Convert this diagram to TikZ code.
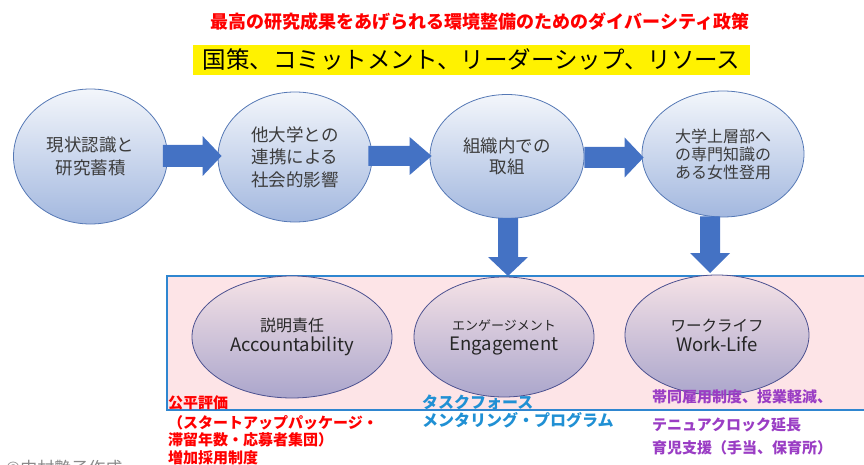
\documentclass[tikz,border=0pt]{standalone}
\usepackage{fontspec}
\setmainfont{Noto Sans CJK JP}
\usetikzlibrary{shapes.geometric,calc}
\definecolor{elltop}{HTML}{F3F6FB}
\definecolor{ellbot}{HTML}{A3B8DF}
\definecolor{ellblue}{HTML}{5578B5}
\definecolor{pinktop}{HTML}{F5E2E6}
\definecolor{lavbot}{HTML}{ABA6CC}
\definecolor{ellpurple}{HTML}{4C5190}
\definecolor{boxfill}{HTML}{FDE4E7}
\definecolor{boxdraw}{HTML}{2F86D0}
\definecolor{barrow}{HTML}{4472C4}
\definecolor{tred}{HTML}{FF0000}
\definecolor{tblue}{HTML}{2090D4}
\definecolor{tpurple}{HTML}{9A3DC4}
\definecolor{tgray}{HTML}{8A8A8A}
\definecolor{ink}{HTML}{3C3C3C}
\definecolor{ink2}{HTML}{262626}
\begin{document}
\begin{tikzpicture}[x=1pt,y=-1pt,
  topell/.style={ellipse, draw=ellblue, line width=0.8pt, top color=elltop, bottom color=ellbot,
    inner sep=0pt, align=center, text=ink, font=\fontsize{17.5}{22.5}\selectfont},
  botell/.style={ellipse, draw=ellpurple, line width=0.8pt, top color=pinktop, bottom color=lavbot,
    inner sep=0pt, align=center, text=ink2, font=\fontsize{18.5}{20}\selectfont},
  redline/.style={anchor=base west, inner sep=0pt, text=tred, font=\bfseries\fontsize{15}{18}\selectfont},
  blueline/.style={anchor=base west, inner sep=0pt, text=tblue, font=\bfseries\fontsize{16}{18}\selectfont},
  purpline/.style={anchor=base west, inner sep=0pt, text=tpurple, font=\bfseries\fontsize{15}{18}\selectfont},
  blockarrow/.style={fill=barrow, draw=none}
]
\useasboundingbox (0,0) rectangle (864,465);
\clip (0,0) rectangle (864,465);

% titles
\node[inner sep=0pt, text=tred, font=\bfseries\fontsize{18}{22}\selectfont] (title) at (480,22)
  {最高の研究成果をあげられる環境整備のためのダイバーシティ政策};
\node[fill=yellow, inner sep=0pt, minimum width=557, minimum height=30,
  font=\fontsize{23.5}{28}\selectfont] (policy) at (471.5,60)
  {国策、コミットメント、リーダーシップ、リソース};

% pink box
\node[draw=boxdraw, line width=1.5pt, fill=boxfill, minimum width=710, minimum height=134,
  inner sep=0pt, anchor=north west] (pinkbox) at (166,275) {};

% top ellipses
\node[topell, minimum width=154, minimum height=135] (e1) at (90.5,156.5) {現状認識と\\研究蓄積};
\node[topell, minimum width=154, minimum height=130] (e2) at (295,157) {他大学との\\連携による\\社会的影響};
\node[topell, minimum width=154, minimum height=124, font=\fontsize{17.5}{21}\selectfont] (e3) at (507,156.5) {組織内での\\取組};
\node[topell, minimum width=162, minimum height=126, font=\fontsize{16}{18}\selectfont] (e4) at (723,154) {大学上層部へ\\の専門知識の\\ある女性登用};

% bottom ellipses
\node[botell, minimum width=200, minimum height=122] (b1) at (292,337)
  {{\fontsize{16}{20}\selectfont 説明責任}\\Accountability};
\node[botell, minimum width=180, minimum height=120] (b2) at (504,337)
  {{\fontsize{13}{20}\selectfont エンゲージメント}\\Engagement};
\node[botell, minimum width=184, minimum height=120] (b3) at (717,335)
  {{\fontsize{15.5}{20}\selectfont ワークライフ}\\Work-Life};

% arrow end points
\coordinate (a1s) at ($(e1.east)+(-5,-0.5)$);
\coordinate (a1e) at ($(e2.west)+(4,-0.5)$);
\coordinate (a2s) at ($(e2.east)+(-4,-1)$);
\coordinate (a2e) at ($(e3.west)+(2,-1)$);
\coordinate (a3s) at ($(e3.east)+(0,1)$);
\coordinate (a3e) at ($(e4.west)+(2,1)$);
\coordinate (d1s) at ($(e3.south)+(1,-1)$);
\coordinate (d1e) at ($(e3.south |- pinkbox.north)+(1,1)$);
\coordinate (d2s) at ($(e4.south)+(-13,-1)$);
\coordinate (d2e) at ($(e4.south |- pinkbox.north)+(-13,-2)$);

% horizontal block arrows
\fill[blockarrow] let \p1=(a1s), \p2=(a1e) in
  (\x1,\y1+11pt) -- (\x2-19pt,\y1+11pt) -- (\x2-19pt,\y1+20pt) -- (\x2,\y1)
  -- (\x2-19pt,\y1-20pt) -- (\x2-19pt,\y1-11pt) -- (\x1,\y1-11pt) -- cycle;
\fill[blockarrow] let \p1=(a2s), \p2=(a2e) in
  (\x1,\y1+10pt) -- (\x2-22pt,\y1+10pt) -- (\x2-22pt,\y1+19pt) -- (\x2,\y1)
  -- (\x2-22pt,\y1-19pt) -- (\x2-22pt,\y1-10pt) -- (\x1,\y1-10pt) -- cycle;
\fill[blockarrow] let \p1=(a3s), \p2=(a3e) in
  (\x1,\y1+10.5pt) -- (\x2-19pt,\y1+10.5pt) -- (\x2-19pt,\y1+20pt) -- (\x2,\y1)
  -- (\x2-19pt,\y1-20pt) -- (\x2-19pt,\y1-10.5pt) -- (\x1,\y1-10.5pt) -- cycle;

% vertical block arrows
\fill[blockarrow] let \p1=(d1s), \p2=(d1e) in
  (\x1-10pt,\y1) -- (\x1-10pt,\y2+19pt) -- (\x1-20pt,\y2+19pt) -- (\x1,\y2)
  -- (\x1+20pt,\y2+19pt) -- (\x1+10pt,\y2+19pt) -- (\x1+10pt,\y1) -- cycle;
\fill[blockarrow] let \p1=(d2s), \p2=(d2e) in
  (\x1-10pt,\y1) -- (\x1-10pt,\y2+20pt) -- (\x1-20pt,\y2+20pt) -- (\x1,\y2)
  -- (\x1+20pt,\y2+20pt) -- (\x1+10pt,\y2+20pt) -- (\x1+10pt,\y1) -- cycle;

% bottom texts
\node[redline] (r1) at (168,408.7) {公平評価};
\node[redline] (r2) at (168,428.7) {（スタートアップパッケージ・};
\node[redline] (r3) at (168,445.7) {滞留年数・応募者集団）};
\node[redline] (r4) at (168,463.7) {増加採用制度};

\node[blueline] (t1) at (422,408) {タスクフォース};
\node[blueline] (t2) at (422,426) {メンタリング・プログラム};

\node[purpline] (p1) at (652,402.7) {帯同雇用制度、授業軽減、};
\node[purpline] (p2) at (652,430.7) {テニュアクロック延長};
\node[purpline] (p3) at (652,453.7) {育児支援（手当、保育所）};

\node[anchor=base west, inner sep=0pt, text=tgray, font=\fontsize{17}{20}\selectfont] (copy) at (6,474.5) {©中村艶子作成};
\end{tikzpicture}
\end{document}
